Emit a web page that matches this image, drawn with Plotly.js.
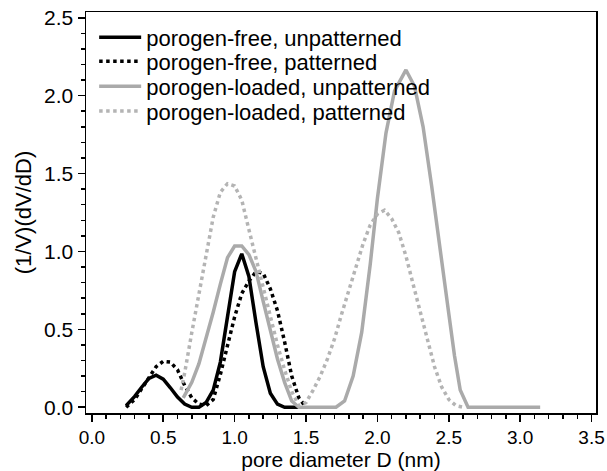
<!DOCTYPE html>
<html>
<head>
<meta charset="utf-8">
<script src="https://cdn.plot.ly/plotly-3.0.1.min.js"></script>
<style>html,body{margin:0;padding:0;background:#fff;}#chart{width:607px;height:471px;}</style>
</head>
<body>
<div id="chart"></div>
<script>
// porogen-free, unpatterned
const freeUnpX = [0.24,0.30,0.35,0.40,0.45,0.50,0.55,0.60,0.65,0.70,0.75,0.80,0.85,0.90,0.95,1.00,1.05,1.10,1.15,1.20,1.25,1.30,1.35,1.40,1.45];
const freeUnpY = [0.01,0.07,0.13,0.185,0.206,0.18,0.125,0.065,0.02,0.0,0.0,0.03,0.11,0.29,0.58,0.87,0.985,0.84,0.54,0.26,0.09,0.02,0.0,0.0,0.0];
// porogen-free, patterned
const freePatX = [0.24,0.30,0.35,0.40,0.45,0.50,0.55,0.60,0.65,0.70,0.75,0.80,0.85,0.90,0.95,1.00,1.05,1.10,1.15,1.20,1.25,1.30,1.35,1.40,1.45,1.50];
const freePatY = [0.0,0.05,0.12,0.19,0.26,0.295,0.29,0.24,0.14,0.06,0.02,0.01,0.05,0.21,0.39,0.58,0.73,0.81,0.87,0.86,0.76,0.62,0.42,0.20,0.06,0.0];
// porogen-loaded, unpatterned
const loadUnpX = [0.64,0.70,0.75,0.80,0.85,0.90,0.95,1.00,1.05,1.10,1.15,1.20,1.25,1.30,1.35,1.40,1.45,1.50,1.60,1.71,1.77,1.83,1.89,1.95,2.00,2.06,2.12,2.20,2.26,2.32,2.38,2.44,2.50,2.54,2.58,2.635,2.80,3.00,3.14];
const loadUnpY = [0.06,0.16,0.28,0.44,0.61,0.79,0.96,1.035,1.035,0.98,0.87,0.68,0.50,0.31,0.16,0.04,0.0,0.0,0.0,0.0,0.04,0.20,0.48,0.92,1.34,1.76,2.03,2.165,2.06,1.80,1.42,0.99,0.60,0.33,0.11,0.0,0.0,0.0,0.0];
// porogen-loaded, patterned
const loadPatX = [0.625,0.65,0.70,0.75,0.80,0.85,0.90,0.95,1.00,1.05,1.10,1.15,1.20,1.25,1.30,1.35,1.40,1.45,1.50,1.55,1.60,1.65,1.70,1.75,1.80,1.85,1.90,1.95,2.00,2.05,2.10,2.15,2.20,2.25,2.30,2.35,2.40,2.45,2.50,2.55,2.60];
const loadPatY = [0.11,0.22,0.48,0.73,0.98,1.22,1.38,1.435,1.42,1.33,1.14,0.95,0.77,0.59,0.40,0.24,0.10,0.01,0.03,0.11,0.20,0.31,0.44,0.60,0.75,0.90,1.05,1.17,1.24,1.265,1.21,1.12,0.97,0.79,0.61,0.43,0.26,0.13,0.05,0.01,0.0];

const names = ['porogen-free, unpatterned','porogen-free, patterned','porogen-loaded, unpatterned','porogen-loaded, patterned'];
const xTickVals = [0,0.5,1.0,1.5,2.0,2.5,3.0,3.5];
const xTickText = ['0.0','0.5','1.0','1.5','2.0','2.5','3.0','3.5'];
const yTickVals = [0,0.5,1.0,1.5,2.0,2.5];
const yTickText = ['0.0','0.5','1.0','1.5','2.0','2.5'];

const FONT = 'Liberation Sans, Arial, Helvetica, sans-serif';
const traces = [
  {x: freeUnpX, y: freeUnpY, name: names[0], legend: 'legend', mode: 'lines', line: {color: '#000000', width: 3.5}},
  {x: freePatX, y: freePatY, name: names[1], legend: 'legend2', mode: 'lines', line: {color: '#000000', width: 3.5, dash: 'dot'}},
  {x: loadUnpX, y: loadUnpY, name: names[2], legend: 'legend3', mode: 'lines', line: {color: '#aaaaaa', width: 3.5}},
  {x: loadPatX, y: loadPatY, name: names[3], legend: 'legend4', mode: 'lines', line: {color: '#b4b4b4', width: 3.5, dash: 'dot'}}
];
function leg(y) {
  return {x: 0.016, y: y, xanchor: 'left', yanchor: 'top', bgcolor: 'rgba(0,0,0,0)',
          font: {family: FONT, size: 22, color: '#000'}, itemwidth: 42};
}
const layout = {
  width: 607, height: 471,
  margin: {l: 86, r: 11, t: 12, b: 58},
  paper_bgcolor: '#ffffff', plot_bgcolor: '#ffffff',
  font: {family: FONT, size: 20, color: '#000'},
  showlegend: true,
  legend: leg(0.989), legend2: leg(0.929), legend3: leg(0.867), legend4: leg(0.805),
  xaxis: {
    range: [-0.041, 3.531], tickvals: xTickVals, ticktext: xTickText,
    showgrid: false, zeroline: false, showline: true, linecolor: '#000', linewidth: 1.5, mirror: true,
    ticks: 'outside', ticklen: 7, tickwidth: 1.5, tickcolor: '#000',
    minor: {dtick: 0.1, ticks: 'outside', ticklen: 4, tickwidth: 1.5, tickcolor: '#000', showgrid: false},
    tickfont: {family: FONT, size: 19},
    title: {text: 'pore diameter D (nm)', font: {family: FONT, size: 21}, standoff: 1}
  },
  yaxis: {
    range: [-0.037, 2.537], tickvals: yTickVals, ticktext: yTickText,
    showgrid: false, zeroline: false, showline: true, linecolor: '#000', linewidth: 1.5, mirror: true,
    ticks: 'outside', ticklen: 7, tickwidth: 1.5, tickcolor: '#000',
    minor: {dtick: 0.1, ticks: 'outside', ticklen: 4, tickwidth: 1.5, tickcolor: '#000', showgrid: false},
    tickfont: {family: FONT, size: 21},
    title: {text: '(1/V)(dV/dD)', font: {family: FONT, size: 22}, standoff: 6}
  }
};
Plotly.newPlot('chart', traces, layout, {displayModeBar: false, staticPlot: true});
</script>
</body>
</html>
